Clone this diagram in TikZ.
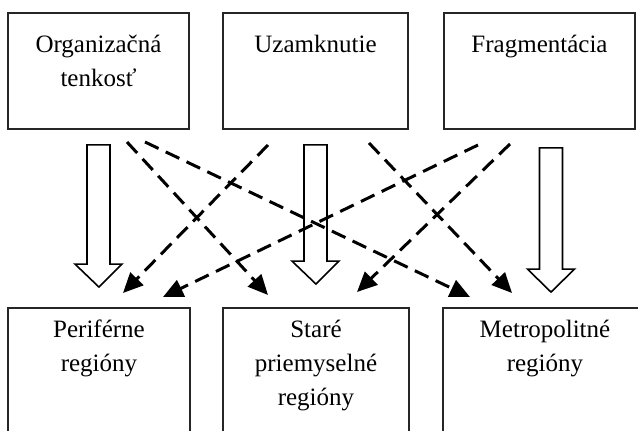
\documentclass[tikz,border=0pt]{standalone}
\usepackage{fontspec}
\setmainfont{Liberation Serif}
\usetikzlibrary{arrows.meta,calc}

% hollow block arrow from a top point #1 down to a tip #2
\newcommand\fatarrow[2]{%
  \draw[fat] let \p1=(#1), \p2=(#2) in
    (\x1-11.5,\y1) -- (\x1+11.5,\y1) -- (\x1+11.5,\y2+23) -- (\x1+23.5,\y2+23)
    -- (\x2,\y2) -- (\x1-23.5,\y2+23) -- (\x1-11.5,\y2+23) -- cycle;}

\begin{document}
\begin{tikzpicture}[x=1pt,y=-1pt,
  box/.style={draw=black!85, line width=1.8pt, rectangle, inner sep=0pt},
  lbl/.style={align=center, inner sep=0pt, anchor=north,
              font=\fontsize{25}{34}\selectfont},
  fat/.style={draw=black, line width=1.6pt, fill=white, line join=miter},
  dasharrow/.style={line width=3pt, dash pattern=on 15pt off 8pt,
              -{Triangle[length=20pt,width=18pt]}}]

\clip (0,0) rectangle (638,431);
\fill[white] (0,0) rectangle (638,431);

% causes
\node[box, minimum width=181pt, minimum height=116pt] (o1) at (98.5,71) {};
\node[box, minimum width=185pt, minimum height=116pt] (o2) at (315.5,71) {};
\node[box, minimum width=191pt, minimum height=116pt] (o3) at (539.5,71) {};
\node[lbl] (o1t) at ($(o1.north)+(0,16)$) {\strut Organizačná\\tenkosť};
\node[lbl] (o2t) at ($(o2.north)+(0,16)$) {\strut Uzamknutie};
\node[lbl] (o3t) at ($(o3.north)+(0,16)$) {\strut Fragmentácia};

% region types
\node[box, minimum width=182pt, minimum height=140pt] (p1) at (99,378) {};
\node[box, minimum width=186pt, minimum height=140pt] (p2) at (316,378) {};
\node[box, minimum width=204pt, minimum height=140pt] (p3) at (545,378) {};
\node[lbl] (p1t) at ($(p1.north)+(0,6)$) {\strut Periférne\\regióny};
\node[lbl] (p2t) at ($(p2.north)+(0,6)$) {\strut Staré\\priemyselné\\regióny};
\node[lbl] (p3t) at ($(p3.north)+(0,6)$) {\strut Metropolitné\\regióny};

% main (direct) effects
\coordinate (a1s) at ($(o1.south)+(0,15)$);
\coordinate (a1e) at ($(p1.north)+(0,-20)$);
\coordinate (a2s) at ($(o2.south)+(0,15)$);
\coordinate (a2e) at ($(p2.north)+(0,-23)$);
\coordinate (a3s) at ($(o3.south)+(11.5,18)$);
\coordinate (a3e) at ($(p3.north)+(6,-15)$);
\fatarrow{a1s}{a1e}
\fatarrow{a2s}{a2e}
\fatarrow{a3s}{a3e}

% cross effects
\coordinate (sA) at (127,142);  \coordinate (eA) at (268,295);
\coordinate (sB) at (145,142);  \coordinate (eB) at (470,297);
\coordinate (sC) at (268,145);  \coordinate (eC) at (123,293);
\coordinate (sD) at (369,143);  \coordinate (eD) at (512,293);
\coordinate (sE) at (478,145);  \coordinate (eE) at (163,297);
\coordinate (sF) at (510,144);  \coordinate (eF) at (357,292);
\foreach \k in {A,B,C,D,E,F}
  \draw[dasharrow] (s\k) -- (e\k);
\end{tikzpicture}
\end{document}
